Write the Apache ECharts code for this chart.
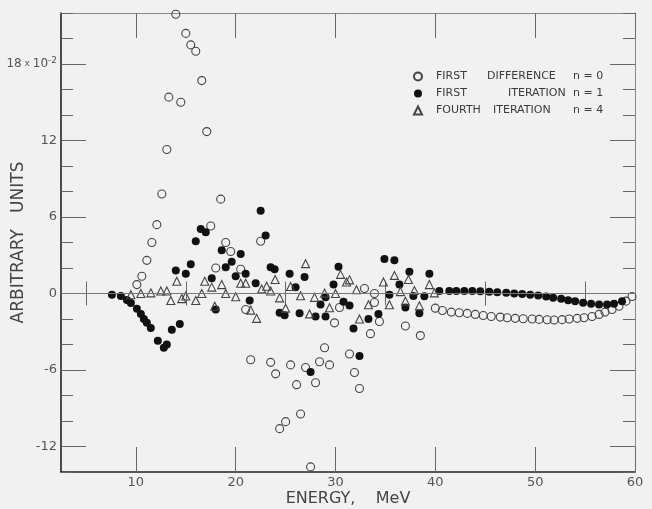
<!DOCTYPE html>
<html>
<head>
<meta charset="utf-8">
<script src="https://cdn.jsdelivr.net/npm/echarts@6/dist/echarts.min.js"></script>
<style>
  html, body { margin: 0; padding: 0; background: #f1f1f1; }
  #chart { width: 652px; height: 509px; }
</style>
</head>
<body>
<div id="chart"></div>
<script>
// values, [energy MeV, arbitrary units x 10^-2]
const firstDifference = [
  [10.1, 0.7], [10.6, 1.35], [11.1, 2.6], [11.6, 4.0], [12.1, 5.4], [12.6, 7.8],
  [13.1, 11.3], [13.3, 15.4], [14.0, 21.9], [14.5, 15.0], [15.0, 20.4], [15.5, 19.5],
  [16.0, 19.0], [16.6, 16.7], [17.1, 12.7], [17.5, 5.3], [18.0, 2.0], [18.5, 7.4],
  [19.0, 4.0], [19.5, 3.3], [20.5, 1.9], [21.0, -1.25], [21.5, -5.2], [22.5, 4.1],
  [23.5, -5.4], [24.0, -6.3], [24.4, -10.6], [25.0, -10.05], [25.5, -5.6], [26.1, -7.15],
  [26.5, -9.45], [27.0, -5.8], [27.5, -13.6], [28.0, -7.0], [28.4, -5.35], [28.9, -4.25],
  [29.4, -5.6], [29.9, -2.3], [30.4, -1.1], [31.4, -4.75], [31.9, -6.2], [32.4, -7.45],
  [32.9, 0.39], [33.5, -3.15], [33.9, 0], [33.9, -0.7], [34.4, -2.2], [37.0, -2.55],
  [38.5, -3.3],
  [40.0, -1.15], [40.7, -1.33], [41.6, -1.46], [42.4, -1.51], [43.2, -1.56], [44.0, -1.64],
  [44.8, -1.72], [45.6, -1.8], [46.5, -1.85], [47.2, -1.9], [48.0, -1.95], [48.8, -1.98],
  [49.7, -2.0], [50.4, -2.03], [51.2, -2.06], [51.9, -2.08], [52.7, -2.05], [53.4, -2.0],
  [54.2, -1.95], [54.9, -1.9], [55.7, -1.8], [56.4, -1.64], [57.0, -1.46], [57.7, -1.25],
  [58.4, -1.0], [59.1, -0.6], [59.7, -0.24]
];

const firstIteration = [
  [7.6, -0.1], [8.5, -0.2], [9.1, -0.5], [9.5, -0.75], [10.1, -1.2], [10.5, -1.6],
  [10.8, -2.0], [11.1, -2.3], [11.5, -2.7], [12.2, -3.7], [12.8, -4.25], [13.1, -4.0],
  [13.6, -2.85], [14.0, 1.8], [14.4, -2.4], [15.0, 1.55], [15.5, 2.3], [16.0, 4.1],
  [16.5, 5.05], [17.0, 4.8], [17.6, 1.2], [18.0, -1.25], [18.6, 3.4], [19.0, 2.05],
  [19.6, 2.5], [20.0, 1.35], [20.5, 3.1], [21.0, 1.55], [21.4, -0.55], [22.0, 0.8],
  [22.5, 6.5], [23.0, 4.55], [23.5, 2.05], [23.9, 1.9], [24.4, -1.5], [24.9, -1.7],
  [25.4, 1.55], [26.0, 0.5], [26.4, -1.55], [26.9, 1.3], [27.5, -6.15], [28.0, -1.8],
  [28.5, -0.86], [29.0, -0.3], [29.0, -1.8], [29.8, 0.7], [30.3, 2.1], [30.8, -0.65],
  [31.4, -0.95], [31.8, -2.75], [32.4, -4.9], [33.3, -2.0], [34.3, -1.6], [34.9, 2.7],
  [35.4, -0.1], [35.9, 2.6], [36.4, 0.7], [37.0, -1.1], [37.4, 1.7], [37.8, -0.2],
  [38.4, -1.55], [38.9, -0.22], [39.4, 1.55],
  [40.4, 0.2], [41.4, 0.2], [42.1, 0.2], [42.9, 0.2], [43.7, 0.2], [44.5, 0.18],
  [45.4, 0.13], [46.2, 0.1], [47.1, 0.05], [47.9, 0], [48.7, -0.03], [49.5, -0.1],
  [50.3, -0.16], [51.1, -0.24], [51.8, -0.34], [52.6, -0.42], [53.3, -0.52], [54.0, -0.6],
  [54.8, -0.73], [55.6, -0.81], [56.4, -0.86], [57.2, -0.86], [57.9, -0.81], [58.7, -0.6]
];

const fourthIteration = [
  [9.5, -0.1], [10.5, 0], [11.5, 0.05], [12.5, 0.2], [13.1, 0.2], [13.5, -0.55],
  [14.1, 0.96], [14.6, -0.4], [15.0, -0.2], [16.0, -0.55], [16.6, 0], [16.9, 0.96],
  [17.6, 0.5], [17.9, -1.0], [18.6, 0.7], [19.0, 0], [20.0, -0.25], [20.5, 0.8],
  [21.0, 0.8], [21.5, -1.3], [22.1, -1.95], [22.6, 0.36], [23.1, 0.57], [23.5, 0.2],
  [23.95, 1.1], [24.4, -0.34], [25.0, -1.15], [25.5, 0.55], [26.5, -0.18], [27.0, 2.34],
  [27.4, -1.6], [27.9, -0.3], [28.9, 0.03], [29.4, -1.12], [30.0, 0], [30.5, 1.5],
  [31.1, 0.9], [31.4, 1.07], [32.1, 0.3], [32.4, -2.0], [33.3, -0.88], [34.8, 0.9],
  [35.4, -0.88], [35.9, 1.42], [36.5, 0.15], [37.0, -0.6], [37.3, 1.1], [37.9, 0.23],
  [38.4, -0.97], [39.4, 0.7], [39.9, 0.05]
];

const xMajor = [10, 20, 30, 40, 50, 60];
const xMinor = [5, 15, 25, 35, 45, 55];
const yMajor = [-12, -6, 0, 6, 12, 18];
const yMinor = [-14, -10, -8, -4, -2, 2, 4, 8, 10, 14, 16, 20, 22];

const FONT = 'DejaVu Sans';
const INK = '#3a3a3a';

var myChart = echarts.init(document.getElementById('chart'));

function xAx(pos, ticks, len, labels, line) {
  return {
    type: 'value', position: pos, min: 2.5, max: 60,
    axisLine: line ? { show: true, onZero: false, lineStyle: line } : { show: false },
    axisTick: { show: true, inside: true, length: len, customValues: ticks,
                lineStyle: { color: '#666', width: 1 } },
    axisLabel: labels ? { show: true, customValues: labels, margin: 4, color: '#555',
                          fontFamily: FONT, fontSize: 13 } : { show: false },
    splitLine: { show: false }
  };
}
function yAx(pos, ticks, len, labels, line) {
  return {
    type: 'value', position: pos, min: -14, max: 22,
    axisLine: line ? { show: true, onZero: false, lineStyle: line } : { show: false },
    axisTick: { show: true, inside: true, length: len, customValues: ticks,
                lineStyle: { color: '#666', width: 1 } },
    axisLabel: labels ? {
      show: true, customValues: labels, margin: 4, color: '#555', fontFamily: FONT, fontSize: 13,
      // the top label carries the scale factor, 18 x 10^-2
      formatter: function (v) { return v === 18 ? '{a|18}{x| x }{a|10}{s|-2}' : String(v); },
      rich: {
        a: { fontFamily: FONT, fontSize: 12, color: '#555', lineHeight: 16 },
        x: { fontFamily: FONT, fontSize: 9, color: '#555', lineHeight: 16 },
        s: { fontFamily: FONT, fontSize: 9, color: '#555', lineHeight: 9, verticalAlign: 'top' }
      }
    } : { show: false },
    splitLine: { show: false }
  };
}

const boldLine = { color: '#222', width: 1.6 };
const thinLine = { color: '#888', width: 1 };

const xAxes = [
  xAx('bottom', xMajor, 25, xMajor, boldLine),
  xAx('bottom', xMinor, 12, null, null),
  xAx('top', xMajor, 25, null, thinLine),
  xAx('top', xMinor, 12, null, null)
];
xAxes[0].name = 'ENERGY,    MeV';
xAxes[0].nameLocation = 'middle';
xAxes[0].nameGap = 19;
xAxes[0].nameMoveOverlap = false;
xAxes[0].nameTextStyle = { fontFamily: FONT, fontSize: 16, color: '#444' };

const yAxes = [
  yAx('left', yMajor, 25, yMajor, boldLine),
  yAx('left', yMinor, 12, null, null),
  yAx('right', yMajor, 25, null, thinLine),
  yAx('right', yMinor, 12, null, null)
];
yAxes[0].name = 'ARBITRARY   UNITS';
yAxes[0].nameLocation = 'middle';
yAxes[0].nameGap = 34;
yAxes[0].nameMoveOverlap = false;
yAxes[0].nameTextStyle = { fontFamily: FONT, fontSize: 17, color: '#444' };

const legendRich = {
  f: {}, a51: { width: 51 }, a72: { width: 72 }, a57: { width: 57 },
  b86: { width: 86 }, b65: { width: 65 }, b80: { width: 80 }
};
Object.keys(legendRich).forEach(function (k) {
  legendRich[k].fontFamily = FONT; legendRich[k].fontSize = 11;
  legendRich[k].color = INK; legendRich[k].lineHeight = 13;
});

var option = {
  backgroundColor: '#f1f1f1',
  animation: false,
  grid: { left: 61, right: 17, top: 13, bottom: 37, containLabel: false, outerBoundsMode: 'none' },
  xAxis: xAxes,
  yAxis: yAxes,
  legend: {
    orient: 'vertical', left: 408, top: 66, itemWidth: 8, itemHeight: 8, itemGap: 6,
    textStyle: { fontFamily: FONT, fontSize: 11, color: INK, padding: [0, 0, 0, 9], rich: legendRich },
    formatter: function (name) {
      if (name === 'FIRST DIFFERENCE n = 0') return '{a51|FIRST}{b86|DIFFERENCE}{f|n = 0}';
      if (name === 'FIRST ITERATION n = 1') return '{a72|FIRST}{b65|ITERATION}{f|n = 1}';
      return '{a57|FOURTH}{b80|ITERATION}{f|n = 4}';
    }
  },
  series: [
    {
      name: 'FIRST DIFFERENCE n = 0', type: 'scatter', data: firstDifference,
      symbol: 'circle', symbolSize: 8,
      itemStyle: { color: 'rgba(0,0,0,0)', borderColor: '#444', borderWidth: 1.1, opacity: 1 },
      markLine: {
        silent: true, symbol: 'none', label: { show: false },
        lineStyle: { color: '#777', width: 1, type: 'solid' },
        data: [{ yAxis: 0 }]
      }
    },
    {
      name: 'FIRST ITERATION n = 1', type: 'scatter', data: firstIteration,
      symbol: 'circle', symbolSize: 8,
      itemStyle: { color: '#111', opacity: 1 }
    },
    {
      name: 'FOURTH ITERATION n = 4', type: 'scatter', data: fourthIteration,
      symbol: 'triangle', symbolSize: 8,
      itemStyle: { color: 'rgba(0,0,0,0)', borderColor: '#444', borderWidth: 1.1, opacity: 1 }
    }
  ]
};

myChart.setOption(option);
</script>
</body>
</html>
